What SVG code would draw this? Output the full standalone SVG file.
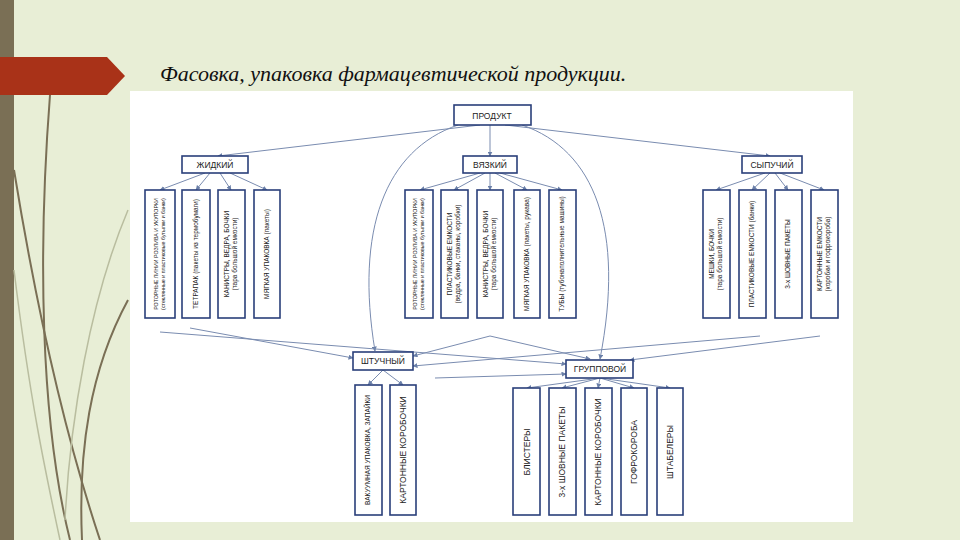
<svg xmlns="http://www.w3.org/2000/svg" width="960" height="540" viewBox="0 0 960 540">
<defs>
<marker id="a" viewBox="0 0 10 10" refX="9" refY="5" markerWidth="5" markerHeight="5" orient="auto"><path d="M0,0L10,5L0,10z" fill="#6a7fa8"/></marker>
<style>
.b{fill:#fff;stroke:#2a3f7a;stroke-width:1.6}
.t{font-family:"Liberation Sans",Arial,sans-serif;font-size:8.5px;fill:#222;text-anchor:middle}
.v{font-family:"Liberation Sans",Arial,sans-serif;font-size:6.5px;fill:#222;text-anchor:middle}
.s{font-size:5.3px}
.c{fill:none;stroke:#7a8cb0;stroke-width:1;marker-end:url(#a)}
</style>
</defs>
<rect width="960" height="540" fill="#e8eed6"/>
<rect x="0" y="0" width="14" height="540" fill="#7a6f55"/>
<g fill="none" stroke="#7a6f55" stroke-width="2">
<path d="M50,95 C38,250 40,420 70,540"/>
<path d="M14,170 C40,330 70,450 100,540"/>
<path d="M128,300 C90,370 78,450 82,540"/>
</g>
<g fill="none" stroke="#b9bd9f" stroke-width="1.5">
<path d="M128,210 C90,300 70,420 65,520"/>
<path d="M14,270 C30,400 45,470 60,540"/>
</g>
<path d="M0,57 H107 L125,76 L107,95 H0 Z" fill="#a93218"/>
<text x="160" y="81" font-family="Liberation Serif,serif" font-style="italic" font-size="22" fill="#111">Фасовка, упаковка фармацевтической продукции.</text>
<rect x="130" y="91" width="723" height="431" fill="#fff"/>
<g id="connectors">
<path class="c" d="M480,125 L218,156"/>
<path class="c" d="M490,125 L490,156"/>
<path class="c" d="M505,125 L770,156"/>
<path class="c" d="M205,173 L160,190"/><path class="c" d="M210,173 L196,190"/><path class="c" d="M220,173 L231,190"/><path class="c" d="M230,173 L267,190"/>
<path class="c" d="M480,173 L420,190"/><path class="c" d="M485,173 L454,190"/><path class="c" d="M490,173 L490,190"/><path class="c" d="M495,173 L527,190"/><path class="c" d="M500,173 L562,190"/>
<path class="c" d="M765,173 L716,190"/><path class="c" d="M770,173 L752,190"/><path class="c" d="M775,173 L788,190"/><path class="c" d="M780,173 L824,190"/>
<path class="c" d="M458,125 C385,150 355,230 375,351"/>
<path class="c" d="M522,125 C595,150 625,230 600,359"/>
<path class="c" d="M190,328 L353,358"/>
<path class="c" d="M160,332 L566,364"/>
<path class="c" d="M490,336 L413,356"/>
<path class="c" d="M490,336 L590,359"/>
<path class="c" d="M760,336 L413,366"/>
<path class="c" d="M820,336 L630,360"/>
<path class="c" d="M435,378 L566,374"/>
<path class="c" d="M383,370 L368,385"/><path class="c" d="M383,370 L403,385"/>
<path class="c" d="M600,378 L527,388"/><path class="c" d="M600,378 L562,388"/><path class="c" d="M600,378 L598,388"/><path class="c" d="M600,378 L634,388"/><path class="c" d="M600,378 L670,388"/>
</g>
<g id="n-product"><rect class="b" x="454" y="105" width="77" height="20"/><text class="t" x="492" y="118.5" font-size="10">ПРОДУКТ</text></g>
<g id="n-liquid"><rect class="b" x="182" y="156" width="66" height="17"/><text class="t" x="215" y="167.5">ЖИДКИЙ</text></g>
<g id="n-viscous"><rect class="b" x="463" y="156" width="54" height="17"/><text class="t" x="490" y="167.5">ВЯЗКИЙ</text></g>
<g id="n-bulk"><rect class="b" x="742" y="156" width="60" height="17"/><text class="t" x="772" y="167.5">СЫПУЧИЙ</text></g>
<g id="n-piece"><rect class="b" x="353" y="352" width="60" height="18"/><text class="t" x="383" y="364">ШТУЧНЫЙ</text></g>
<g id="n-group"><rect class="b" x="566" y="360" width="67" height="18"/><text class="t" x="600" y="372">ГРУППОВОЙ</text></g>
<g id="liq1"><rect class="b" x="145" y="190" width="30" height="128"/><text class="v s" transform="translate(160,254) rotate(-90)"><tspan x="0" y="-2">РОТОРНЫЕ ЛИНИИ РОЗЛИВА И УКУПОРКИ</tspan><tspan x="0" y="5">(стеклянные и пластиковые бутылки и банки)</tspan></text></g>
<g id="liq2"><rect class="b" x="182" y="190" width="28" height="128"/><text class="v" transform="translate(196,254) rotate(-90)" y="2">ТЕТРАПАК (пакеты из термобумаги)</text></g>
<g id="liq3"><rect class="b" x="218" y="190" width="27" height="128"/><text class="v" transform="translate(231,254) rotate(-90)"><tspan x="0" y="-2">КАНИСТРЫ, ВЕДРА, БОЧКИ</tspan><tspan x="0" y="6">(тара большой емкости)</tspan></text></g>
<g id="liq4"><rect class="b" x="254" y="190" width="26" height="128"/><text class="v" transform="translate(267,254) rotate(-90)" y="2">МЯГКАЯ УПАКОВКА (пакеты)</text></g>
<g id="vis1"><rect class="b" x="405" y="190" width="28" height="128"/><text class="v s" transform="translate(419,254) rotate(-90)"><tspan x="0" y="-2">РОТОРНЫЕ ЛИНИИ РОЗЛИВА И УКУПОРКИ</tspan><tspan x="0" y="5">(стеклянные и пластиковые бутылки и банки)</tspan></text></g>
<g id="vis2"><rect class="b" x="441" y="190" width="27" height="128"/><text class="v" transform="translate(454,254) rotate(-90)"><tspan x="0" y="-2">ПЛАСТИКОВЫЕ ЕМКОСТИ</tspan><tspan x="0" y="6">(ведра, банки, стаканы, коробки)</tspan></text></g>
<g id="vis3"><rect class="b" x="477" y="190" width="26" height="128"/><text class="v" transform="translate(490,254) rotate(-90)"><tspan x="0" y="-2">КАНИСТРЫ, ВЕДРА, БОЧКИ</tspan><tspan x="0" y="6">(тара большой емкости)</tspan></text></g>
<g id="vis4"><rect class="b" x="514" y="190" width="26" height="128"/><text class="v" transform="translate(527,254) rotate(-90)" y="2">МЯГКАЯ УПАКОВКА (пакеты, рукава)</text></g>
<g id="vis5"><rect class="b" x="549" y="190" width="27" height="128"/><text class="v" transform="translate(562,254) rotate(-90)" y="2">ТУБЫ (тубонаполнительные машины)</text></g>
<g id="bulk1"><rect class="b" x="703" y="190" width="27" height="128"/><text class="v" transform="translate(716,254) rotate(-90)"><tspan x="0" y="-2">МЕШКИ, БОЧКИ</tspan><tspan x="0" y="6">(тара большой емкости)</tspan></text></g>
<g id="bulk2"><rect class="b" x="739" y="190" width="27" height="128"/><text class="v" transform="translate(752,254) rotate(-90)" y="2">ПЛАСТИКОВЫЕ ЕМКОСТИ (банки)</text></g>
<g id="bulk3"><rect class="b" x="775" y="190" width="27" height="128"/><text class="v" transform="translate(788,254) rotate(-90)" y="2">3-х ШОВНЫЕ ПАКЕТЫ</text></g>
<g id="bulk4"><rect class="b" x="811" y="190" width="27" height="128"/><text class="v" transform="translate(824,254) rotate(-90)"><tspan x="0" y="-2">КАРТОННЫЕ ЕМКОСТИ</tspan><tspan x="0" y="6">(коробки и гофрокороба)</tspan></text></g>
<g id="p1"><rect class="b" x="355" y="385" width="27" height="130"/><text class="v" transform="translate(368,450) rotate(-90)" y="2">ВАКУУМНАЯ УПАКОВКА, ЗАПАЙКИ</text></g>
<g id="p2"><rect class="b" x="390" y="385" width="26" height="130"/><text class="t" transform="translate(403,450) rotate(-90)" y="3">КАРТОННЫЕ КОРОБОЧКИ</text></g>
<g id="g1"><rect class="b" x="513" y="388" width="27" height="127"/><text class="t" transform="translate(527,452) rotate(-90)" y="3">БЛИСТЕРЫ</text></g>
<g id="g2"><rect class="b" x="549" y="388" width="27" height="127"/><text class="t" transform="translate(562,452) rotate(-90)" y="3">3-х ШОВНЫЕ ПАКЕТЫ</text></g>
<g id="g3"><rect class="b" x="585" y="388" width="27" height="127"/><text class="t" transform="translate(598,452) rotate(-90)" y="3">КАРТОННЫЕ КОРОБОЧКИ</text></g>
<g id="g4"><rect class="b" x="621" y="388" width="26" height="127"/><text class="t" transform="translate(634,452) rotate(-90)" y="3">ГОФРОКОРОБА</text></g>
<g id="g5"><rect class="b" x="657" y="388" width="26" height="127"/><text class="t" transform="translate(670,452) rotate(-90)" y="3">ШТАБЕЛЕРЫ</text></g>
</svg>
